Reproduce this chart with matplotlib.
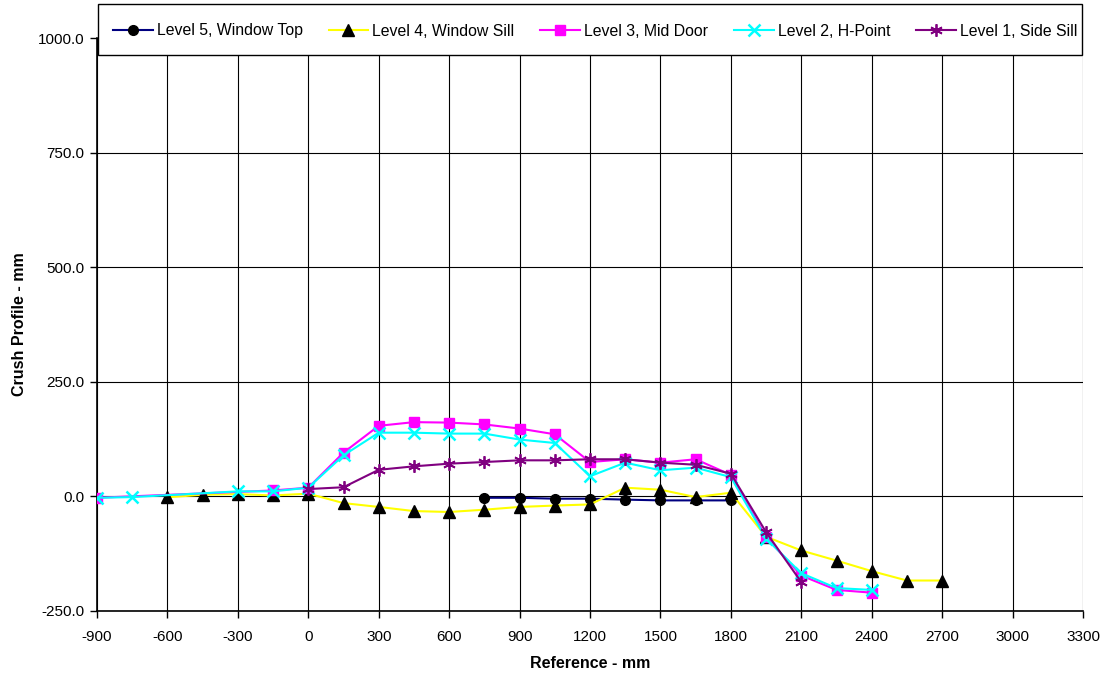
import numpy as np
import matplotlib.pyplot as plt
from matplotlib.patches import Rectangle
from matplotlib.ticker import FormatStrFormatter

plt.rcParams['font.family'] = ['Liberation Sans', 'DejaVu Sans']
plt.rcParams['axes.unicode_minus'] = False

# Crush profile data (mm)
x_l5 = [750, 900, 1050, 1200, 1350, 1500, 1650, 1800]
y_l5 = [-3, -3, -5, -5, -7, -8.7, -8.7, -8.7]

x_l4 = [-600, -450, -300, -150, 0, 150, 300, 450, 600, 750, 900, 1050, 1200,
        1350, 1500, 1650, 1800, 1950, 2100, 2250, 2400, 2550, 2700]
y_l4 = [-2, 3.7, 5, 2, 6, -14.6, -23, -32, -34, -29, -23, -20, -17.5,
        19, 14.6, -1.5, 8, -88, -118, -140, -163, -183.5, -183.5]

x_l3 = [-900, -150, 0, 150, 300, 450, 600, 750, 900, 1050, 1200, 1350, 1500,
        1650, 1800, 1950, 2100, 2250, 2400]
y_l3 = [-3, 13, 19, 95.5, 154, 162, 161, 157, 148, 135.5, 75, 81, 73.6,
        81, 47, -89, -172.6, -204, -210]

x_l2 = [-900, -750, -300, -150, 0, 150, 300, 450, 600, 750, 900, 1050, 1200,
        1350, 1500, 1650, 1800, 1950, 2100, 2250, 2400]
y_l2 = [-3, -1.5, 11, 11, 19, 89.6, 139, 139, 137, 137, 124, 116.5, 44,
        73.6, 57, 62.7, 42, -92, -167.6, -200, -204]

x_l1 = [0, 150, 300, 450, 600, 750, 900, 1050, 1200, 1350, 1500, 1650, 1800,
        1950, 2100]
y_l1 = [16, 20, 58, 65.6, 71.4, 75, 78.7, 78.7, 81, 81, 73.6, 69, 49.5,
        -78, -187]

x_ticks = np.arange(-900, 3301, 300)
y_ticks = [-250, 0, 250, 500, 750, 1000]

W, H = 1105, 677
fig = plt.figure(figsize=(W / 100, H / 100), dpi=100)
ax = fig.add_axes([97 / W, 1 - 611 / H, (1083 - 97) / W, (611 - 38) / H])

ax.plot(x_l5, y_l5, color='#000080', lw=1.5, marker='o', ms=7,
        mfc='black', mec='black', label='Level 5, Window Top', zorder=3)
ax.plot(x_l4, y_l4, color='#ffff00', lw=1.5, marker='^', ms=8,
        mfc='black', mec='black', label='Level 4, Window Sill', zorder=3)
ax.plot(x_l3, y_l3, color='#ff00ff', lw=1.5, marker='s', ms=7,
        mfc='#ff00ff', mec='#ff00ff', label='Level 3, Mid Door', zorder=4)
ax.plot(x_l2, y_l2, color='#00ffff', lw=1.5, marker='x', ms=8, mew=1.8,
        mec='#00ffff', label='Level 2, H-Point', zorder=5)
ax.plot(x_l1, y_l1, color='#800080', lw=1.5, marker=(6, 2, 0), ms=9, mew=1.3,
        mec='#800080', label='Level 1, Side Sill', zorder=6)

ax.set_xlim(-900, 3300)
ax.set_ylim(-250, 1000)
ax.set_xticks(x_ticks)
ax.set_yticks(y_ticks)
ax.yaxis.set_major_formatter(FormatStrFormatter('%.1f'))
ax.grid(True, color='black', lw=0.8)
ax.set_axisbelow(True)
ax.tick_params(direction='out', length=5, width=1, labelsize=11, colors='black')
ax.tick_params(axis='x', pad=9)
ax.tick_params(axis='y', pad=4)
for s in ['top', 'right']:
    ax.spines[s].set_visible(False)
for s in ['left', 'bottom']:
    ax.spines[s].set_linewidth(1.2)

ax.set_xlabel('Reference - mm', fontsize=11.5, fontweight='bold', labelpad=8)
ax.set_ylabel('Crush Profile - mm', fontsize=11.5, fontweight='bold', labelpad=8)

# legend box (Excel style)
fig.patches.append(Rectangle((98 / W, 1 - 55 / H), (1082 - 98) / W, 51 / H,
                             transform=fig.transFigure, facecolor='white',
                             edgecolor='black', lw=1, zorder=10))
leg = fig.legend(loc='center left', bbox_to_anchor=(113 / W, 1 - 31 / H),
                 ncol=5, fontsize=11.4, frameon=False, handlelength=2.5,
                 handletextpad=0.25, columnspacing=1.65, borderaxespad=0,
                 borderpad=0)
leg.set_zorder(11)

fig.savefig('out.png', dpi=100)
